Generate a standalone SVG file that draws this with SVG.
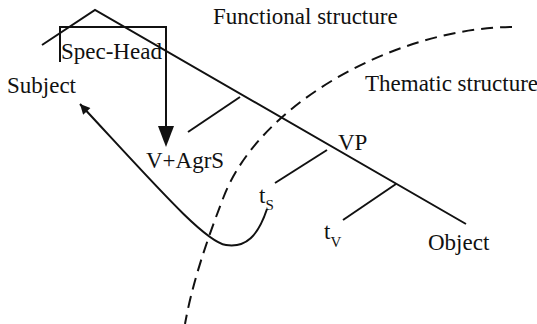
<svg xmlns="http://www.w3.org/2000/svg" width="537" height="324" viewBox="0 0 537 324">
<style>
.ln{stroke:#111;stroke-width:2;fill:none;stroke-linecap:butt}
.dash{stroke:#111;stroke-width:2;fill:none;stroke-dasharray:12 7}
text{font-family:"Liberation Serif","Times New Roman",serif;font-size:23px;fill:#111}
.sub{font-size:15px}
</style>
<defs>
<marker id="smallArrow" viewBox="0 0 10 10" refX="10" refY="5" markerWidth="14" markerHeight="10" markerUnits="userSpaceOnUse" orient="auto">
<path d="M0,0 L10,5 L0,10 Z" fill="#111"/>
</marker>
</defs>
<rect width="537" height="324" fill="#fff"/>
<g id="connectors">
<path class="ln" d="M42,45 L95,10 L466,224"/>
<path class="ln" d="M240,97 L188,132"/>
<path class="ln" d="M327,150 L275,183"/>
<path class="ln" d="M396,184 L343,220"/>
<path class="ln" d="M60,62 L60,27 L166,27 L166,128"/>
<path d="M158,126 L174,126 L166,147 Z" fill="#111"/>
<path class="ln" d="M267,209 C258,236 246,248 226,245 C205,242 158,188 80,104" marker-end="url(#smallArrow)"/>
<path class="dash" d="M512,27 C400,28 262,100 224,196 C205,245 192,285 185,324"/>
</g>
<g id="label-functional"><text x="213" y="24">Functional structure</text></g>
<g id="label-thematic"><text x="365" y="91">Thematic structure</text></g>
<g id="node-spechead"><text x="61" y="59">Spec-Head</text></g>
<g id="node-subject"><text x="7" y="93">Subject</text></g>
<g id="node-vagrs"><text x="146" y="168">V+AgrS</text></g>
<g id="node-vp"><text x="338" y="150">VP</text></g>
<g id="node-ts"><text x="259" y="203">t<tspan class="sub" dy="7">S</tspan></text></g>
<g id="node-tv"><text x="324" y="239">t<tspan class="sub" dy="8">V</tspan></text></g>
<g id="node-object"><text x="428" y="250">Object</text></g>
</svg>
